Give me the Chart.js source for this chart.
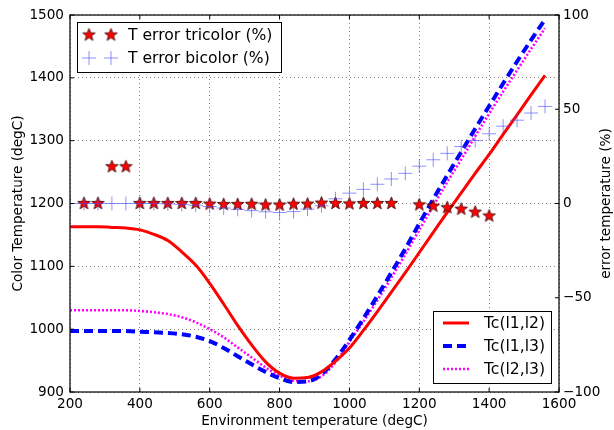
<!DOCTYPE html>
<html><head><meta charset="utf-8">
<script src="https://cdn.jsdelivr.net/npm/chart.js@4/dist/chart.umd.min.js"></script>
<style>html,body{margin:0;padding:0;background:#fff}#wrap{width:614px;height:430px;position:relative}</style>
</head><body><div id="wrap"><canvas id="c" width="614" height="430"></canvas></div>
<script>
// ---- data ----
const temps = [200,240,280,320,360,400,440,480,520,560,600,640,680,720,760,800,840,880,920,960,1000,1040,1080,1120,1160,1200,1240,1280,1320,1360,1400,1440,1480,1520,1560];
const tc12 = [1163,1163,1163,1162,1161,1158,1151,1141,1123,1102,1073,1040,1006,975,948,930,922,923,932,949,970,998,1028,1059,1090,1122,1154,1186,1217,1248,1278,1310,1341,1373,1404];
const tc13 = [997,997,997,997,997,996,995,994,992,988,981,970,957,944,932,922,916,917,928,952,983,1017,1053,1090,1128,1168,1207,1245,1282,1319,1355,1391,1426,1460,1493];
const tc23 = [1030,1030,1030,1030,1030,1029,1027,1024,1019,1011,1000,987,971,955,939,926,918,917,925,947,980,1012,1046,1082,1119,1158,1196,1234,1270,1307,1343,1378,1412,1446,1479];
const triTemps = [240,280,320,360,400,440,480,520,560,600,640,680,720,760,800,840,880,920,960,1000,1040,1080,1120,1200,1240,1280,1320,1360,1400];
const errTri = [0,0,19.5,19.5,0,0,0,0,0,-0.3,-0.5,-0.5,-0.4,-0.8,-0.8,-0.4,-0.3,0.2,0,-0.2,0,0,0,-0.7,-1.4,-2.2,-3,-4.6,-6.6];
const biTemps = temps;
const errBi = [0,0,0,0,0,0,0,-0.2,-0.5,-0.9,-1.6,-2.4,-3.1,-3.8,-4.4,-4.8,-4.3,-3,-1.2,2.5,5.5,7.5,10.2,13,16,19.8,23.2,26.6,30.2,33.4,37,41,44.2,48,51.5];
const xTicks = [200,400,600,800,1000,1200,1400,1600];
const yLeftTicks = [900,1000,1100,1200,1300,1400,1500];
const yRightTicks = [-100,-50,0,50,100];
const seriesNames = ['T error bicolor (%)','T error tricolor (%)','Tc(l1,l2)','Tc(l1,l3)','Tc(l2,l3)'];
const axisTitles = {x:'Environment temperature (degC)', y:'Color Temperature (degC)', y1:'error temperature (%)'};

const FONT = 'DejaVu Sans';
const pts = (xs, ys) => xs.map((x,i)=>({x, y: ys[i]}));

// star marker image
function makeStar(r){
  const s = Math.ceil(r*2+3), c = document.createElement('canvas');
  c.width = s; c.height = s;
  const g = c.getContext('2d'); const cx = s/2, cy = s/2;
  g.beginPath();
  for(let i=0;i<10;i++){
    const rr = i%2===0 ? r : r*0.42;
    const a = -Math.PI/2 + i*Math.PI/5;
    const px = cx + rr*Math.cos(a), py = cy + rr*Math.sin(a);
    i===0 ? g.moveTo(px,py) : g.lineTo(px,py);
  }
  g.closePath(); g.fillStyle = '#ff0000'; g.fill();
  g.lineWidth = 0.8; g.strokeStyle = '#3a0000'; g.stroke();
  return c;
}
const starImg = makeStar(6.6);
const plusColor = 'rgba(70,70,255,0.6)';

const lineStyles = {
  tc12: {color:'#ff0000', width:3, dash:[]},
  tc13: {color:'#0000ff', width:4, dash:[9,5]},
  tc23: {color:'#ff00ff', width:2.6, dash:[2,2]}
};

function drawPlus(ctx,x,y,r){
  ctx.save(); ctx.strokeStyle = plusColor; ctx.lineWidth = 1;
  ctx.beginPath(); ctx.moveTo(x-r,y); ctx.lineTo(x+r,y); ctx.moveTo(x,y-r); ctx.lineTo(x,y+r); ctx.stroke(); ctx.restore();
}

const extras = {
  id:'extras',
  afterDraw(chart){
    const ctx = chart.ctx, a = chart.chartArea;
    const xs = chart.scales.x, ys = chart.scales.y, y1 = chart.scales.y1;
    ctx.save();
    // frame
    ctx.strokeStyle = '#111'; ctx.lineWidth = 1.3;
    ctx.strokeRect(a.left, a.top, a.right-a.left, a.bottom-a.top);
    // inward ticks
    ctx.lineWidth = 1; ctx.strokeStyle = '#000';
    ctx.beginPath();
    xTicks.forEach(v=>{const p = xs.getPixelForValue(v); ctx.moveTo(p,a.bottom); ctx.lineTo(p,a.bottom-4); ctx.moveTo(p,a.top); ctx.lineTo(p,a.top+4);});
    yLeftTicks.forEach(v=>{const p = ys.getPixelForValue(v); ctx.moveTo(a.left,p); ctx.lineTo(a.left+4,p);});
    yRightTicks.forEach(v=>{const p = y1.getPixelForValue(v); ctx.moveTo(a.right,p); ctx.lineTo(a.right-4,p);});
    ctx.stroke();
    // right axis title (reads bottom to top)
    ctx.save();
    ctx.translate(606, (a.top+a.bottom)/2); ctx.rotate(-Math.PI/2);
    ctx.font = '13.6px "'+FONT+'"'; ctx.fillStyle = '#000'; ctx.textAlign='center'; ctx.textBaseline='middle';
    ctx.fillText(axisTitles.y1, 0, 0);
    ctx.restore();
    // legend 1 (upper left)
    const lf = '15.6px "'+FONT+'"';
    ctx.fillStyle = '#fff'; ctx.fillRect(77.5,22.5,204,50);
    ctx.strokeStyle = '#000'; ctx.lineWidth = 1; ctx.strokeRect(77.5,22.5,204,50);
    ctx.font = lf; ctx.fillStyle = '#000'; ctx.textAlign='left'; ctx.textBaseline='middle';
    [89,111].forEach(x=>ctx.drawImage(starImg, x-starImg.width/2, 35-starImg.height/2));
    [89,111].forEach(x=>drawPlus(ctx,x,58,7));
    ctx.fillText(seriesNames[1], 128, 36);
    ctx.fillText(seriesNames[0], 128, 59);
    // legend 2 (lower right)
    ctx.fillStyle = '#fff'; ctx.fillRect(433.5,311.5,118,72);
    ctx.strokeStyle = '#000'; ctx.lineWidth = 1; ctx.strokeRect(433.5,311.5,118,72);
    const rows = [['tc12',323,seriesNames[2]],['tc13',346,seriesNames[3]],['tc23',369,seriesNames[4]]];
    rows.forEach(([k,y,t])=>{
      const st = lineStyles[k];
      ctx.save(); ctx.strokeStyle = st.color; ctx.lineWidth = st.width; ctx.setLineDash(st.dash);
      ctx.beginPath(); ctx.moveTo(443,y); ctx.lineTo(469,y); ctx.stroke(); ctx.restore();
      ctx.fillStyle='#000'; ctx.font = lf; ctx.fillText(t, 484, y+1);
    });
    ctx.restore();
  }
};

const gridCommon = {color:'rgba(0,0,0,0.55)', lineWidth:0.9, drawTicks:false};
const tickFont = {family: FONT, size: 13.6};
const plain = v => String(v).replace('-','\u2212');

new Chart(document.getElementById('c'), {
  type:'scatter',
  data:{datasets:[
    {label:seriesNames[0], data:pts(biTemps, errBi), yAxisID:'y1', pointStyle:'cross', pointRadius:7, pointBorderColor:plusColor, pointBackgroundColor:plusColor, pointBorderWidth:1, showLine:false},
    {label:seriesNames[1], data:pts(triTemps, errTri), yAxisID:'y1', pointStyle:starImg, pointRadius:6, showLine:false},
    {label:seriesNames[2], data:pts(temps, tc12), yAxisID:'y', showLine:true, pointRadius:0, borderColor:lineStyles.tc12.color, borderWidth:lineStyles.tc12.width, cubicInterpolationMode:'monotone'},
    {label:seriesNames[3], data:pts(temps, tc13), yAxisID:'y', showLine:true, pointRadius:0, borderColor:lineStyles.tc13.color, borderWidth:lineStyles.tc13.width, borderDash:lineStyles.tc13.dash, borderCapStyle:'butt', cubicInterpolationMode:'monotone'},
    {label:seriesNames[4], data:pts(temps, tc23), yAxisID:'y', showLine:true, pointRadius:0, borderColor:lineStyles.tc23.color, borderWidth:lineStyles.tc23.width, borderDash:lineStyles.tc23.dash, borderCapStyle:'butt', cubicInterpolationMode:'monotone'}
  ]},
  options:{
    responsive:false, animation:false, events:[],
    layout:{padding:{top:15,left:0,right:0,bottom:0}},
    plugins:{legend:{display:false}, tooltip:{enabled:false}},
    scales:{
      x:{type:'linear', min:200, max:1600, afterBuildTicks:s=>{s.ticks = xTicks.map(v=>({value:v}));},
         grid:gridCommon, border:{display:false, dash:[1,3]},
         ticks:{font:tickFont, color:'#000', padding:4, callback:plain},
         title:{display:true, text:axisTitles.x, font:tickFont, color:'#000', padding:{top:0,bottom:0}},
         afterFit:s=>{s.height = 38;}},
      y:{type:'linear', position:'left', min:900, max:1500, afterBuildTicks:s=>{s.ticks = yLeftTicks.map(v=>({value:v}));},
         grid:gridCommon, border:{display:false, dash:[1,3]},
         ticks:{font:tickFont, color:'#000', padding:6, callback:plain},
         title:{display:true, text:axisTitles.y, font:tickFont, color:'#000', padding:{top:10,bottom:0}},
         afterFit:s=>{s.width = 70;}},
      y1:{type:'linear', position:'right', min:-100, max:100, afterBuildTicks:s=>{s.ticks = yRightTicks.map(v=>({value:v}));},
         grid:{display:false, drawTicks:false}, border:{display:false},
         ticks:{font:tickFont, color:'#000', padding:4, callback:plain},
         afterFit:s=>{s.width = 55;}}
    }
  },
  plugins:[extras]
});
</script></body></html>
